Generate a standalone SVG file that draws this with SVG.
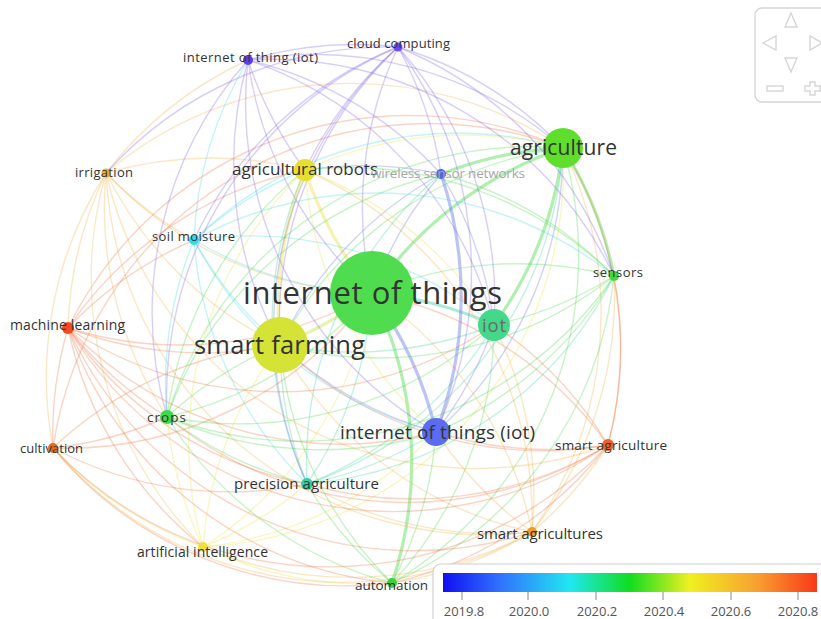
<svg xmlns="http://www.w3.org/2000/svg" width="821" height="619" viewBox="0 0 821 619">
<style>
.e{fill:none;stroke-width:1.4;stroke-opacity:.3}
.w{stroke-width:3.2;stroke-opacity:.42}
.g{stroke:#45d845}.yg{stroke:#c8e03a}.t{stroke:#35d0a0}.b{stroke:#6070e8}.p{stroke:#7a5cf0}
.o{stroke:#f0b040}.r{stroke:#f07040}.c{stroke:#40d8e0}.ye{stroke:#ece040}
text{font-family:"Open Sans","Liberation Sans",sans-serif;fill:#333;text-anchor:middle}
.nav{fill:none;stroke:#d6d6d6;stroke-width:1.4}
.tick{font-size:13px;fill:#555}
</style>
<defs>
<linearGradient id="yearScale" x1="0" x2="1" y1="0" y2="0">
<stop offset="0" stop-color="#1010f0"/>
<stop offset="0.15" stop-color="#3070ff"/>
<stop offset="0.34" stop-color="#20e8f0"/>
<stop offset="0.5" stop-color="#10dd20"/>
<stop offset="0.66" stop-color="#f0f020"/>
<stop offset="0.84" stop-color="#f8a030"/>
<stop offset="1" stop-color="#f83818"/>
</linearGradient>
</defs>
<rect width="821" height="619" fill="#fff"/>
<g id="links">
<path class="e yg w" d="M372 293A380 380 0 0 1 280 345"/>
<path class="e t w" d="M372 293A380 380 0 0 1 494 325"/>
<path class="e g w" d="M372 293A380 380 0 0 1 563 148"/>
<path class="e b w" d="M372 293A380 380 0 0 1 436 432"/>
<path class="e ye w" d="M372 293A380 380 0 0 1 305 170"/>
<path class="e b" d="M372 293A380 380 0 0 1 441 174"/>
<path class="e p" d="M372 293A380 380 0 0 1 398 47"/>
<path class="e p" d="M372 293A380 380 0 0 1 248 60"/>
<path class="e o" d="M372 293A380 380 0 0 1 106 173"/>
<path class="e c" d="M372 293A380 380 0 0 1 194 240"/>
<path class="e g" d="M372 293A380 380 0 0 1 614 276"/>
<path class="e r" d="M372 293A380 380 0 0 1 68 328"/>
<path class="e g" d="M372 293A380 380 0 0 1 167 417"/>
<path class="e r" d="M372 293A380 380 0 0 1 53 448"/>
<path class="e t" d="M372 293A380 380 0 0 1 307 484"/>
<path class="e r" d="M372 293A380 380 0 0 1 608 445"/>
<path class="e o" d="M372 293A380 380 0 0 1 532 532"/>
<path class="e ye" d="M372 293A380 380 0 0 1 203 547"/>
<path class="e g w" d="M372 293A380 380 0 0 1 392 583"/>
<path class="e t" d="M494 325A380 380 0 0 1 280 345"/>
<path class="e g" d="M280 345A380 380 0 0 1 563 148"/>
<path class="e b" d="M436 432A380 380 0 0 1 280 345"/>
<path class="e ye w" d="M280 345A380 380 0 0 1 305 170"/>
<path class="e b" d="M280 345A380 380 0 0 1 441 174"/>
<path class="e p" d="M280 345A380 380 0 0 1 398 47"/>
<path class="e p" d="M280 345A380 380 0 0 1 248 60"/>
<path class="e o" d="M280 345A380 380 0 0 1 106 173"/>
<path class="e c" d="M280 345A380 380 0 0 1 194 240"/>
<path class="e g" d="M614 276A380 380 0 0 1 280 345"/>
<path class="e r" d="M280 345A380 380 0 0 1 68 328"/>
<path class="e g" d="M167 417A380 380 0 0 1 280 345"/>
<path class="e r" d="M53 448A380 380 0 0 1 280 345"/>
<path class="e t" d="M307 484A380 380 0 0 1 280 345"/>
<path class="e r" d="M608 445A380 380 0 0 1 280 345"/>
<path class="e o" d="M532 532A380 380 0 0 1 280 345"/>
<path class="e ye" d="M203 547A380 380 0 0 1 280 345"/>
<path class="e g" d="M392 583A380 380 0 0 1 280 345"/>
<path class="e g w" d="M563 148A380 380 0 0 1 494 325"/>
<path class="e b" d="M494 325A380 380 0 0 1 436 432"/>
<path class="e ye" d="M305 170A380 380 0 0 1 494 325"/>
<path class="e b" d="M441 174A380 380 0 0 1 494 325"/>
<path class="e p" d="M398 47A380 380 0 0 1 494 325"/>
<path class="e p" d="M248 60A380 380 0 0 1 494 325"/>
<path class="e c" d="M194 240A380 380 0 0 1 494 325"/>
<path class="e g" d="M614 276A380 380 0 0 1 494 325"/>
<path class="e r" d="M494 325A380 380 0 0 1 68 328"/>
<path class="e g" d="M494 325A380 380 0 0 1 167 417"/>
<path class="e t" d="M494 325A380 380 0 0 1 307 484"/>
<path class="e r" d="M494 325A380 380 0 0 1 608 445"/>
<path class="e o" d="M494 325A380 380 0 0 1 532 532"/>
<path class="e g" d="M494 325A380 380 0 0 1 392 583"/>
<path class="e b" d="M563 148A380 380 0 0 1 436 432"/>
<path class="e ye" d="M305 170A380 380 0 0 1 563 148"/>
<path class="e g w" d="M441 174A380 380 0 0 1 563 148"/>
<path class="e p" d="M398 47A380 380 0 0 1 563 148"/>
<path class="e p" d="M248 60A380 380 0 0 1 563 148"/>
<path class="e o" d="M106 173A380 380 0 0 1 563 148"/>
<path class="e c" d="M194 240A380 380 0 0 1 563 148"/>
<path class="e g w" d="M563 148A380 380 0 0 1 614 276"/>
<path class="e r" d="M68 328A380 380 0 0 1 563 148"/>
<path class="e g" d="M167 417A380 380 0 0 1 563 148"/>
<path class="e r" d="M53 448A380 380 0 0 1 563 148"/>
<path class="e t" d="M563 148A380 380 0 0 1 307 484"/>
<path class="e r" d="M563 148A380 380 0 0 1 608 445"/>
<path class="e o" d="M563 148A380 380 0 0 1 532 532"/>
<path class="e ye" d="M563 148A380 380 0 0 1 203 547"/>
<path class="e g" d="M563 148A380 380 0 0 1 392 583"/>
<path class="e ye" d="M436 432A380 380 0 0 1 305 170"/>
<path class="e b w" d="M441 174A380 380 0 0 1 436 432"/>
<path class="e p" d="M398 47A380 380 0 0 1 436 432"/>
<path class="e p" d="M436 432A380 380 0 0 1 248 60"/>
<path class="e c" d="M436 432A380 380 0 0 1 194 240"/>
<path class="e g" d="M614 276A380 380 0 0 1 436 432"/>
<path class="e r" d="M436 432A380 380 0 0 1 68 328"/>
<path class="e g" d="M436 432A380 380 0 0 1 167 417"/>
<path class="e t" d="M436 432A380 380 0 0 1 307 484"/>
<path class="e r" d="M608 445A380 380 0 0 1 436 432"/>
<path class="e o" d="M532 532A380 380 0 0 1 436 432"/>
<path class="e ye" d="M436 432A380 380 0 0 1 203 547"/>
<path class="e g" d="M436 432A380 380 0 0 1 392 583"/>
<path class="e b" d="M305 170A380 380 0 0 1 441 174"/>
<path class="e p" d="M305 170A380 380 0 0 1 398 47"/>
<path class="e p" d="M305 170A380 380 0 0 1 248 60"/>
<path class="e o" d="M106 173A380 380 0 0 1 305 170"/>
<path class="e c" d="M194 240A380 380 0 0 1 305 170"/>
<path class="e g" d="M305 170A380 380 0 0 1 614 276"/>
<path class="e r" d="M68 328A380 380 0 0 1 305 170"/>
<path class="e g" d="M167 417A380 380 0 0 1 305 170"/>
<path class="e t" d="M307 484A380 380 0 0 1 305 170"/>
<path class="e o" d="M305 170A380 380 0 0 1 532 532"/>
<path class="e ye" d="M203 547A380 380 0 0 1 305 170"/>
<path class="e p" d="M398 47A380 380 0 0 1 441 174"/>
<path class="e p" d="M248 60A380 380 0 0 1 441 174"/>
<path class="e g" d="M441 174A380 380 0 0 1 614 276"/>
<path class="e g" d="M167 417A380 380 0 0 1 441 174"/>
<path class="e t" d="M307 484A380 380 0 0 1 441 174"/>
<path class="e p" d="M248 60A380 380 0 0 1 398 47"/>
<path class="e p" d="M106 173A380 380 0 0 1 398 47"/>
<path class="e p" d="M194 240A380 380 0 0 1 398 47"/>
<path class="e p" d="M398 47A380 380 0 0 1 614 276"/>
<path class="e p" d="M167 417A380 380 0 0 1 398 47"/>
<path class="e p" d="M307 484A380 380 0 0 1 398 47"/>
<path class="e o" d="M106 173A380 380 0 0 1 248 60"/>
<path class="e c" d="M194 240A380 380 0 0 1 248 60"/>
<path class="e p" d="M248 60A380 380 0 0 1 614 276"/>
<path class="e p" d="M167 417A380 380 0 0 1 248 60"/>
<path class="e o" d="M194 240A380 380 0 0 1 106 173"/>
<path class="e o" d="M68 328A380 380 0 0 1 106 173"/>
<path class="e o" d="M167 417A380 380 0 0 1 106 173"/>
<path class="e o" d="M53 448A380 380 0 0 1 106 173"/>
<path class="e o" d="M608 445A380 380 0 0 1 106 173"/>
<path class="e o" d="M203 547A380 380 0 0 1 106 173"/>
<path class="e o" d="M532 532A380 380 0 0 1 106 173"/>
<path class="e r" d="M68 328A380 380 0 0 1 194 240"/>
<path class="e c" d="M167 417A380 380 0 0 1 194 240"/>
<path class="e c" d="M307 484A380 380 0 0 1 194 240"/>
<path class="e c" d="M194 240A380 380 0 0 1 614 276"/>
<path class="e r" d="M614 276A380 380 0 0 1 608 445"/>
<path class="e o" d="M614 276A380 380 0 0 1 532 532"/>
<path class="e g" d="M614 276A380 380 0 0 1 392 583"/>
<path class="e t" d="M614 276A380 380 0 0 1 307 484"/>
<path class="e g" d="M614 276A380 380 0 0 1 167 417"/>
<path class="e r" d="M167 417A380 380 0 0 1 68 328"/>
<path class="e r" d="M53 448A380 380 0 0 1 68 328"/>
<path class="e r" d="M608 445A380 380 0 0 1 68 328"/>
<path class="e r" d="M203 547A380 380 0 0 1 68 328"/>
<path class="e r" d="M307 484A380 380 0 0 1 68 328"/>
<path class="e r" d="M532 532A380 380 0 0 1 68 328"/>
<path class="e r" d="M392 583A380 380 0 0 1 68 328"/>
<path class="e r" d="M167 417A380 380 0 0 1 53 448"/>
<path class="e g" d="M307 484A380 380 0 0 1 167 417"/>
<path class="e ye" d="M203 547A380 380 0 0 1 167 417"/>
<path class="e g" d="M392 583A380 380 0 0 1 167 417"/>
<path class="e r" d="M608 445A380 380 0 0 1 167 417"/>
<path class="e ye" d="M203 547A380 380 0 0 1 53 448"/>
<path class="e r" d="M392 583A380 380 0 0 1 53 448"/>
<path class="e r" d="M307 484A380 380 0 0 1 53 448"/>
<path class="e o" d="M532 532A380 380 0 0 1 53 448"/>
<path class="e r" d="M608 445A380 380 0 0 1 53 448"/>
<path class="e ye" d="M307 484A380 380 0 0 1 203 547"/>
<path class="e g" d="M392 583A380 380 0 0 1 307 484"/>
<path class="e o" d="M532 532A380 380 0 0 1 307 484"/>
<path class="e r" d="M608 445A380 380 0 0 1 307 484"/>
<path class="e o" d="M608 445A380 380 0 0 1 532 532"/>
<path class="e r" d="M608 445A380 380 0 0 1 392 583"/>
<path class="e o" d="M532 532A380 380 0 0 1 392 583"/>
<path class="e o" d="M532 532A380 380 0 0 1 203 547"/>
<path class="e ye" d="M392 583A380 380 0 0 1 203 547"/>
</g>
<g id="n-internet-of-things"><circle cx="372" cy="293" r="42" fill="#4fdc4f"/></g>
<g id="n-smart-farming"><circle cx="280" cy="345" r="28" fill="#d4e335"/></g>
<g id="n-iot"><circle cx="494" cy="325" r="16" fill="#43d88a"/></g>
<g id="n-agriculture"><circle cx="563" cy="148" r="20" fill="#5fdf2c"/></g>
<g id="n-internet-of-things-iot"><circle cx="436" cy="432" r="14" fill="#5b6cf0"/></g>
<g id="n-agricultural-robots"><circle cx="305" cy="170" r="11" fill="#e6e02c"/></g>
<g id="n-wireless-sensor-networks"><circle cx="441" cy="174" r="5" fill="#4f66e8"/></g>
<g id="n-cloud-computing"><circle cx="398" cy="47" r="4.5" fill="#6a4cf0"/></g>
<g id="n-internet-of-thing-iot"><circle cx="248" cy="60" r="5" fill="#5a3ef0"/></g>
<g id="n-irrigation"><circle cx="106" cy="173" r="4.5" fill="#f0b038"/></g>
<g id="n-soil-moisture"><circle cx="194" cy="240" r="5" fill="#30dcec"/></g>
<g id="n-sensors"><circle cx="614" cy="276" r="5" fill="#3fd83f"/></g>
<g id="n-machine-learning"><circle cx="68" cy="328" r="6" fill="#f04a1e"/></g>
<g id="n-crops"><circle cx="167" cy="417" r="7" fill="#3fd84a"/></g>
<g id="n-cultivation"><circle cx="53" cy="448" r="5" fill="#e86a1e"/></g>
<g id="n-precision-agriculture"><circle cx="307" cy="484" r="6" fill="#2fd0a6"/></g>
<g id="n-smart-agriculture"><circle cx="608" cy="445" r="6" fill="#f0602a"/></g>
<g id="n-smart-agricultures"><circle cx="532" cy="532" r="5" fill="#f09a28"/></g>
<g id="n-artificial-intelligence"><circle cx="203" cy="547" r="5" fill="#eee040"/></g>
<g id="n-automation"><circle cx="392" cy="583" r="5" fill="#3fd040"/></g>
<g id="labels">
<text x="372.5" y="304" font-size="31" textLength="259">internet of things</text>
<text x="279.5" y="354" font-size="25.5" textLength="171">smart farming</text>
<text x="494" y="332" font-size="18.5" style="fill:#6a6a6a" textLength="24">iot</text>
<text x="563.5" y="155" font-size="21" textLength="107">agriculture</text>
<text x="437.5" y="439" font-size="19" textLength="195">internet of things (iot)</text>
<text x="305" y="175" font-size="17" textLength="146">agricultural robots</text>
<text x="448" y="178" font-size="13.5" style="fill:#a8a8a8" textLength="154">wireless sensor networks</text>
<text x="398.5" y="48" font-size="13" textLength="103">cloud computing</text>
<text x="250.5" y="62" font-size="13" textLength="135">internet of thing (iot)</text>
<text x="104" y="177" font-size="13" textLength="58">irrigation</text>
<text x="193.5" y="241" font-size="13" textLength="83">soil moisture</text>
<text x="618" y="277" font-size="13" textLength="50">sensors</text>
<text x="67.5" y="330" font-size="14" textLength="115">machine learning</text>
<text x="166.5" y="422" font-size="13.5" textLength="39">crops</text>
<text x="51.5" y="453" font-size="13" textLength="63">cultivation</text>
<text x="306.5" y="489" font-size="15" textLength="145">precision agriculture</text>
<text x="611" y="450" font-size="13.5" textLength="112">smart agriculture</text>
<text x="540" y="539" font-size="15" textLength="126">smart agricultures</text>
<text x="202.5" y="557" font-size="14" textLength="131">artificial intelligence</text>
<text x="391.5" y="590" font-size="13.5" textLength="73">automation</text>
</g>
<g id="zoom-controls">
<rect class="nav" x="755" y="8" width="80" height="94" rx="7" style="fill:#fff"/>
<path class="nav" d="M791 13L785 27H797Z"/>
<path class="nav" d="M785 58H797L791 72Z"/>
<path class="nav" d="M763 43L776 36V50Z"/>
<path class="nav" d="M810 36V50L822 43Z"/>
<rect class="nav" x="767" y="86" width="16" height="5"/>
<path class="nav" d="M810 82H815V86H820V91H815V95H810V91H805V86H810Z"/>
</g>
<g id="year-legend">
<rect x="433" y="564" width="400" height="70" rx="8" fill="#fff" stroke="#d0d0d0" stroke-width="1.2"/>
<rect x="443" y="573" width="374" height="19" fill="url(#yearScale)"/>
<path d="M462 592V600M528 592V600M596 592V600M663 592V600M731 592V600M798 592V600" stroke="#888" stroke-width="1"/>
<text class="tick" x="464" y="616">2019.8</text>
<text class="tick" x="529" y="616">2020.0</text>
<text class="tick" x="597" y="616">2020.2</text>
<text class="tick" x="664" y="616">2020.4</text>
<text class="tick" x="731" y="616">2020.6</text>
<text class="tick" x="798" y="616">2020.8</text>
</g>
</svg>
